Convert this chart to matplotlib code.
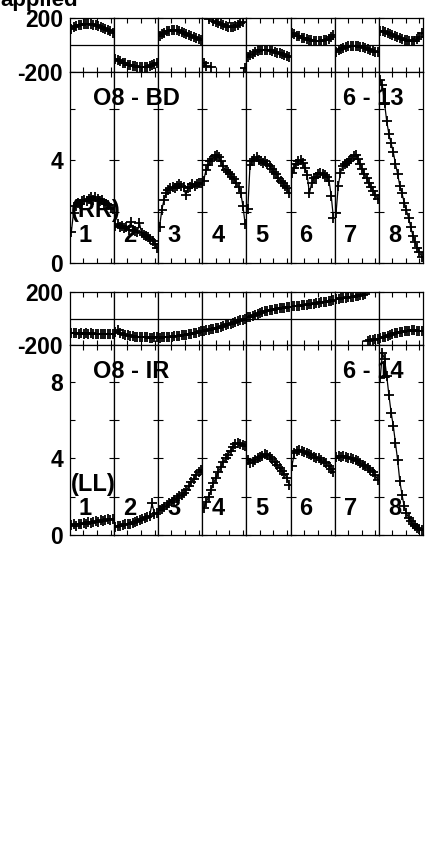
import numpy as np
import matplotlib
matplotlib.use("Agg")
import matplotlib.pyplot as plt

# ---------------- data ----------------
segments = ["1", "2", "3", "4", "5", "6", "7", "8"]

bd_phase = [
    [120, 131, 138, 147, 151, 157, 158, 156, 155, 149, 146, 138, 133, 124, 118, 108, 101, 91],
    [-100, -111, -119, -130, -136, -145, -149, -156, -158, -163, -163, -166, -163, -160, -156, -150, -141, -130],
    [70, 83, 92, 102, 105, 110, 108, 108, 102, 98, 89, 84, 75, 69, 59, 53, 44, 39],
    [-135, -152, 192, -165, 178, 168, 160, 152, 145, 140, 136, 135, 137, 142, 150, 160, 172, -170],
    [-88, -75, -65, -53, -47, -39, -38, -35, -38, -39, -46, -49, -57, -61, -69, -73, -81, -86],
    [86, 79, 69, 63, 54, 50, 43, 40, 34, 33, 29, 30, 29, 34, 37, 47, 57, 74],
    [-50, -37, -29, -19, -15, -8, -7, -4, -7, -8, -14, -17, -25, -29, -37, -41, -49, -54],
    [106, 101, 93, 89, 80, 75, 66, 61, 52, 48, 40, 37, 32, 32, 33, 45, 61, 86],
]

rr_amp = [
    [1.2, 1.95, 2.2, 2.35, 2.3, 2.4, 2.45, 2.4, 2.5, 2.55, 2.45, 2.55, 2.5, 2.4, 2.45, 2.35, 2.3, 2.25, 2.15, 2.1],
    [1.45, 1.5, 1.4, 1.42, 1.35, 1.38, 1.3, 1.6, 1.28, 1.25, 1.2, 1.55, 1.15, 1.1, 1.05, 1.0, 0.95, 0.85, 0.75, 0.6],
    [1.4, 2.05, 2.45, 2.7, 2.85, 2.9, 2.95, 2.9, 3.0, 3.05, 3.0, 2.95, 2.65, 2.9, 2.95, 3.05, 3.0, 3.05, 3.1, 3.1],
    [3.2, 3.6, 3.8, 3.95, 4.05, 4.15, 4.2, 4.1, 3.95, 3.75, 3.6, 3.55, 3.45, 3.35, 3.25, 3.1, 2.95, 2.7, 2.2, 1.5],
    [2.1, 3.8, 3.95, 4.05, 4.1, 4.0, 3.95, 3.9, 3.95, 3.85, 3.75, 3.65, 3.55, 3.45, 3.3, 3.2, 3.1, 3.0, 2.9, 2.7],
    [3.5, 3.7, 3.85, 3.95, 4.0, 3.9, 3.7, 3.4, 2.7, 3.1, 3.3, 3.35, 3.45, 3.5, 3.45, 3.4, 3.35, 3.2, 2.6, 1.75],
    [1.95, 3.0, 3.5, 3.75, 3.85, 3.9, 3.95, 4.05, 4.15, 4.2, 4.05, 3.85, 3.65, 3.45, 3.3, 3.1, 2.95, 2.8, 2.65, 2.5],
    [7.1, 6.9, 6.2, 5.5, 5.0, 4.65, 4.3, 3.85, 3.45, 3.0, 2.7, 2.35, 2.05, 1.75, 1.4, 1.05, 0.8, 0.6, 0.42, 0.25],
]

ir_phase = [
    [-110, -113, -109, -114, -112, -116, -111, -115, -113, -117, -114, -116, -119, -115, -118, -117, -120, -118],
    [-100, -88, -112, -118, -123, -127, -131, -134, -136, -138, -140, -141, -142, -143, -144, -144, -143, -142],
    [-144, -143, -142, -141, -139, -137, -135, -133, -130, -127, -124, -121, -118, -114, -110, -106, -102, -98],
    [-95, -90, -86, -82, -78, -73, -68, -62, -56, -50, -44, -38, -32, -26, -20, -14, -9, -4],
    [8, 15, 22, 30, 37, 44, 50, 55, 60, 64, 67, 70, 73, 76, 79, 82, 85, 88],
    [92, 94, 96, 98, 100, 102, 104, 107, 110, 113, 116, 119, 122, 125, 128, 131, 134, 137],
    [145, 148, 151, 154, 157, 160, 163, 166, 169, 172, 176, 180, 184, -168, -165, -162, -158, -152],
    [-150, -143, -136, -129, -123, -117, -112, -107, -103, -99, -96, -93, -91, -90, -90, -91, -92, -94],
]

ll_amp = [
    [0.5, 0.55, 0.48, 0.6, 0.55, 0.62, 0.6, 0.68, 0.65, 0.7, 0.72, 0.7, 0.78, 0.75, 0.8, 0.82, 0.78, 0.85],
    [0.42, 0.48, 0.45, 0.52, 0.55, 0.58, 0.6, 0.65, 0.7, 0.75, 0.8, 0.85, 0.9, 0.95, 1.0, 1.65, 1.1, 1.15],
    [1.3, 1.35, 1.45, 1.55, 1.65, 1.75, 1.85, 1.95, 2.05, 2.1, 2.2, 2.35, 2.55, 2.75, 2.95, 3.15, 3.3, 3.4],
    [1.4, 1.7, 2.0, 2.35, 2.7, 3.0, 3.3, 3.55, 3.8, 4.0, 4.2, 4.4, 4.6, 4.75, 4.8, 4.75, 4.7, 4.65],
    [3.9, 3.75, 3.8, 3.9, 4.0, 4.1, 4.15, 4.25, 4.2, 4.1, 3.95, 3.8, 3.65, 3.5, 3.35, 3.2, 3.0, 2.6],
    [3.6, 4.3, 4.4, 4.45, 4.4, 4.35, 4.3, 4.25, 4.2, 4.1, 4.05, 4.0, 3.9, 3.8, 3.75, 3.6, 3.45, 3.3],
    [4.1, 4.15, 4.1, 4.15, 4.1, 4.05, 4.0, 3.95, 3.9, 3.85, 3.75, 3.65, 3.6, 3.5, 3.4, 3.3, 3.15, 2.9],
    [8.2, 9.5, 9.2, 8.3, 7.3, 6.4, 5.7, 4.8, 3.9, 2.8, 2.1, 1.5, 1.15, 0.9, 0.72, 0.55, 0.45, 0.38, 0.3, 0.25],
]

phase_ticks = [-200, 200]
rr_ticks = [0, 2, 4, 6]
rr_labels = ["0", "", "4", ""]
ll_ticks = [0, 2, 4, 6, 8]
ll_labels = ["0", "", "4", "", "8"]

# ---------------- layout ----------------
W, H = 435, 864
fig = plt.figure(figsize=(W / 100, H / 100), dpi=100)
FONT = "Liberation Sans"
plt.rcParams["font.family"] = [FONT, "DejaVu Sans"]
plt.rcParams["font.weight"] = "bold"

left_px, right_px = 70, 423
seg_w = (right_px - left_px) / 8.0
rows = [  # (top_px, bottom_px, data, kind)
    (18, 72, bd_phase, "phase"),
    (72, 263, rr_amp, "rr"),
    (292, 345, ir_phase, "phase"),
    (345, 535, ll_amp, "ll"),
]


def px_rect(x0, y0, x1, y1):
    return [x0 / W, 1 - y1 / H, (x1 - x0) / W, (y1 - y0) / H]


def break_wraps(y):
    y = np.asarray(y, float)
    x = np.linspace(0.03, 0.97, len(y))
    xs, ys = [x[0]], [y[0]]
    for i in range(1, len(y)):
        if abs(y[i] - y[i - 1]) > 180:
            xs.append(np.nan)
            ys.append(np.nan)
        xs.append(x[i])
        ys.append(y[i])
    return np.array(xs), np.array(ys)


for (top, bot, data, kind) in rows:
    for j in range(8):
        x0 = left_px + j * seg_w
        ax = fig.add_axes(px_rect(x0, top, x0 + seg_w, bot))
        ax.set_xlim(0, 1)
        if kind == "phase":
            ax.set_ylim(-200, 200)
            ax.axhline(0, color="black", lw=0.9, zorder=1)
            ticks, labels = phase_ticks, [str(t) for t in phase_ticks]
        elif kind == "rr":
            ax.set_ylim(0, 7.42)
            ticks, labels = rr_ticks, rr_labels
        else:
            ax.set_ylim(0, 9.93)
            ticks, labels = ll_ticks, ll_labels
        ys = data[j]
        xl, yl = break_wraps(ys)
        ax.plot(xl, yl, color="black", lw=0.9, zorder=2)
        ax.plot(np.linspace(0.03, 0.97, len(ys)), ys, ls="none", marker="+",
                ms=7, mew=1.3, color="black", zorder=3, clip_on=True)
        ax.set_xticks([0.3, 0.61, 0.92])
        ax.set_xticklabels([])
        ax.set_yticks(ticks)
        if j == 0:
            ax.set_yticklabels(labels, fontsize=16.5, fontweight="bold", family=FONT)
        else:
            ax.set_yticklabels([])
        ax.tick_params(direction="in", length=3.5, width=0.8, top=True, right=True,
                       bottom=True, left=True, pad=5)
        for s in ax.spines.values():
            s.set_linewidth(0.9)
            s.set_color("black")


def ftext(x, y, s, size=17, **kw):
    fig.text(x / W, 1 - y / H, s, fontsize=size, fontweight="bold", family=FONT,
             va="baseline", **kw)


ftext(78, 6, "applied", size=16, ha="right")
ftext(93, 105, "O8 - BD")
ftext(343, 105, "6 - 13")
ftext(71, 217, "(RR)")
ftext(93, 378, "O8 - IR")
ftext(343, 378, "6 - 14")
ftext(71, 491, "(LL)")
for j, s in enumerate(segments):
    cx = left_px + j * seg_w + 15.5
    ftext(cx, 241.5, s, ha="center")
    ftext(cx, 515, s, ha="center")

fig.savefig("out.png", dpi=100)
